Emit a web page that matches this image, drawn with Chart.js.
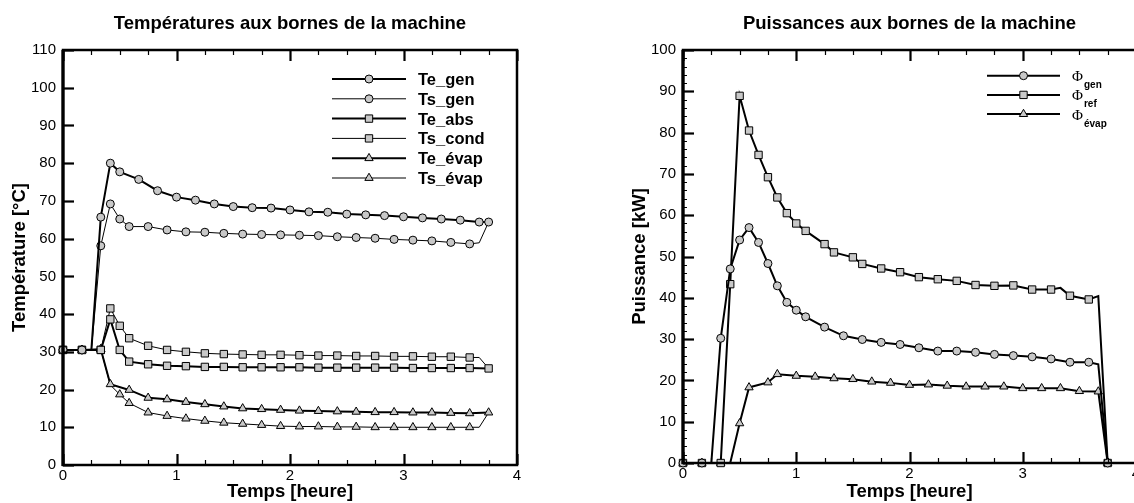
<!DOCTYPE html>
<html>
<head>
<meta charset="utf-8">
<script src="https://cdn.jsdelivr.net/npm/chart.js@4"></script>
<style>
  html, body { margin: 0; padding: 0; background: #fff; overflow: hidden; width: 1134px; height: 503px; }
  #temp { position: absolute; left: 0; top: 0; }
  #puis { position: absolute; left: 560px; top: 0; }
</style>
</head>
<body>
<canvas id="temp" width="560" height="503"></canvas>
<canvas id="puis" width="600" height="503"></canvas>
<script>
const FONT = 'Arial, "Liberation Sans", sans-serif';
Chart.defaults.font.family = FONT;
Chart.defaults.color = '#000';

// --- Températures [°C], temps en heures ---
const tTeGen = [0, 0.167, 0.25, 0.333, 0.417, 0.5, 0.667, 0.833, 1.0, 1.167, 1.333, 1.5, 1.667, 1.833, 2.0, 2.167, 2.333, 2.5, 2.667, 2.833, 3.0, 3.167, 3.333, 3.5, 3.667, 3.75];
const teGen  = [30.5, 30.5, 30.5, 65.7, 80.0, 77.7, 75.7, 72.7, 71.0, 70.2, 69.2, 68.5, 68.2, 68.1, 67.6, 67.1, 67.0, 66.5, 66.3, 66.1, 65.8, 65.5, 65.2, 64.9, 64.4, 64.4];

const tTsGen = [0, 0.167, 0.25, 0.333, 0.417, 0.5, 0.583, 0.75, 0.917, 1.083, 1.25, 1.417, 1.583, 1.75, 1.917, 2.083, 2.25, 2.417, 2.583, 2.75, 2.917, 3.083, 3.25, 3.417, 3.583, 3.667, 3.75];
const tsGen  = [30.5, 30.5, 30.5, 58.1, 69.2, 65.2, 63.2, 63.2, 62.3, 61.8, 61.7, 61.4, 61.2, 61.1, 61.0, 60.9, 60.8, 60.5, 60.3, 60.1, 59.8, 59.6, 59.4, 59.0, 58.6, 58.9, 64.4];

const tTeAbs = [0, 0.167, 0.333, 0.417, 0.5, 0.583, 0.75, 0.917, 1.083, 1.25, 1.417, 1.583, 1.75, 1.917, 2.083, 2.25, 2.417, 2.583, 2.75, 2.917, 3.083, 3.25, 3.417, 3.583, 3.75];
const teAbs  = [30.5, 30.5, 30.5, 38.6, 30.5, 27.4, 26.7, 26.3, 26.2, 26.0, 26.0, 25.9, 25.9, 25.9, 25.9, 25.8, 25.8, 25.8, 25.8, 25.8, 25.7, 25.7, 25.7, 25.7, 25.6];

const tTsCond = [0, 0.167, 0.333, 0.417, 0.5, 0.583, 0.75, 0.917, 1.083, 1.25, 1.417, 1.583, 1.75, 1.917, 2.083, 2.25, 2.417, 2.583, 2.75, 2.917, 3.083, 3.25, 3.417, 3.583, 3.667, 3.75];
const tsCond  = [30.5, 30.5, 30.5, 41.5, 36.9, 33.6, 31.6, 30.5, 30.0, 29.6, 29.4, 29.3, 29.2, 29.2, 29.1, 29.0, 29.0, 28.9, 28.9, 28.8, 28.8, 28.7, 28.7, 28.5, 28.5, 25.6];

const tTeEvap = [0, 0.167, 0.333, 0.417, 0.583, 0.75, 0.917, 1.083, 1.25, 1.417, 1.583, 1.75, 1.917, 2.083, 2.25, 2.417, 2.583, 2.75, 2.917, 3.083, 3.25, 3.417, 3.583, 3.75];
const teEvap  = [30.5, 30.5, 30.7, 21.4, 19.9, 17.8, 17.4, 16.7, 16.1, 15.5, 15.0, 14.8, 14.6, 14.4, 14.3, 14.2, 14.1, 14.0, 14.0, 13.9, 13.9, 13.8, 13.7, 13.9];

const tTsEvap = [0, 0.167, 0.333, 0.417, 0.5, 0.583, 0.75, 0.917, 1.083, 1.25, 1.417, 1.583, 1.75, 1.917, 2.083, 2.25, 2.417, 2.583, 2.75, 2.917, 3.083, 3.25, 3.417, 3.583, 3.667, 3.75];
const tsEvap  = [30.5, 30.5, 30.7, 21.2, 18.7, 16.4, 13.9, 13.0, 12.3, 11.7, 11.2, 10.9, 10.6, 10.3, 10.2, 10.2, 10.1, 10.1, 10.0, 10.0, 10.0, 10.0, 10.0, 10.0, 10.0, 13.9];

// --- Puissances [kW] ---
const tPhiGen = [0, 0.167, 0.25, 0.333, 0.417, 0.5, 0.583, 0.667, 0.75, 0.833, 0.917, 1.0, 1.083, 1.25, 1.417, 1.583, 1.75, 1.917, 2.083, 2.25, 2.417, 2.583, 2.75, 2.917, 3.083, 3.25, 3.417, 3.583, 3.667, 3.75];
const phiGen  = [0, 0, 0, 30.2, 47.0, 54.0, 57.0, 53.4, 48.3, 42.9, 38.9, 37.0, 35.4, 32.9, 30.8, 29.9, 29.2, 28.7, 27.9, 27.1, 27.1, 26.8, 26.3, 26.0, 25.7, 25.2, 24.4, 24.4, 23.9, 0];

const tPhiRef = [0, 0.167, 0.333, 0.417, 0.5, 0.583, 0.667, 0.75, 0.833, 0.917, 1.0, 1.083, 1.25, 1.333, 1.5, 1.583, 1.75, 1.917, 2.083, 2.25, 2.417, 2.583, 2.75, 2.917, 3.083, 3.25, 3.333, 3.417, 3.583, 3.667, 3.75];
const phiRef  = [0, 0, 0, 43.3, 88.9, 80.5, 74.6, 69.2, 64.3, 60.5, 58.0, 56.2, 53.0, 51.0, 49.8, 48.2, 47.1, 46.2, 45.0, 44.5, 44.1, 43.1, 42.9, 43.0, 42.0, 42.0, 42.4, 40.5, 39.6, 40.4, 0];

const tPhiEvap = [0, 0.167, 0.333, 0.417, 0.5, 0.583, 0.75, 0.833, 1.0, 1.167, 1.333, 1.5, 1.667, 1.833, 2.0, 2.167, 2.333, 2.5, 2.667, 2.833, 3.0, 3.167, 3.333, 3.5, 3.667, 3.75];
const phiEvap  = [0, 0, 0, 0, 9.6, 18.3, 19.5, 21.5, 21.1, 20.9, 20.5, 20.3, 19.7, 19.4, 18.9, 19.0, 18.7, 18.5, 18.5, 18.5, 18.1, 18.1, 18.1, 17.4, 17.3, 0];

const GRIS = '#c8c8c8';
const R = { circle: 4, rect: 5.2, triangle: 4.8 };

// points sans symbole (seulement une cassure de la courbe)
function serie(label, t, v, shape, width, plain) {
  return {
    label: label,
    data: t.map((x, i) => ({ x: x, y: v[i] })),
    borderColor: '#000',
    borderWidth: width,
    pointStyle: shape,
    pointBackgroundColor: GRIS,
    pointBorderColor: '#000',
    pointBorderWidth: 1,
    pointRadius: t.map((x, i) => plain.includes(i) ? 0 : R[shape]),
    pointHoverRadius: 0,
    tension: 0,
    clip: false
  };
}

const framePlugin = {
  id: 'frame',
  afterDatasetsDraw(chart, args, o) {
    const ctx = chart.ctx, a = chart.chartArea;
    const x = chart.scales.x, y = chart.scales.y;
    ctx.save();
    ctx.strokeStyle = '#000';
    ctx.fillStyle = '#000';
    ctx.lineCap = 'butt';

    // x ticks, inward, top and bottom
    for (let i = 0; i <= 16; i++) {
      const px = Math.round(x.getPixelForValue(i / 4)) + 0.5;
      const major = i % 4 === 0;
      const len = major ? 11 : 5;
      ctx.lineWidth = major ? 2.2 : 1.2;
      ctx.beginPath();
      ctx.moveTo(px, a.bottom); ctx.lineTo(px, a.bottom - len);
      ctx.moveTo(px, a.top); ctx.lineTo(px, a.top + len);
      ctx.stroke();
    }
    // y ticks, inward, left side only
    for (let v = y.min; v <= y.max; v += 10) {
      const py = Math.round(y.getPixelForValue(v)) + 0.5;
      ctx.lineWidth = 2.2;
      ctx.beginPath(); ctx.moveTo(a.left, py); ctx.lineTo(a.left + 11, py); ctx.stroke();
    }
    if (o.minorY) {
      ctx.lineWidth = 1;
      for (let v = y.min; v <= y.max; v += o.minorY) {
        const py = Math.round(y.getPixelForValue(v)) + 0.5;
        ctx.beginPath(); ctx.moveTo(a.left, py); ctx.lineTo(a.left + 4, py); ctx.stroke();
      }
    }
    // frame
    ctx.lineWidth = 2.5;
    ctx.strokeRect(a.left, a.top, a.right - a.left, a.bottom - a.top);
    ctx.lineWidth = 3.2;
    ctx.beginPath(); ctx.moveTo(a.left, a.top); ctx.lineTo(a.left, a.bottom + 1); ctx.stroke();

    // title
    ctx.font = 'bold 18.5px ' + FONT;
    ctx.textAlign = 'center';
    ctx.textBaseline = 'alphabetic';
    ctx.fillText(o.title, (a.left + a.right) / 2, 29);

    // legend
    const L = o.legend;
    chart.data.datasets.forEach((ds, i) => {
      const ly = L.y + i * L.dy;
      ctx.lineWidth = ds.borderWidth;
      ctx.strokeStyle = '#000';
      ctx.beginPath(); ctx.moveTo(L.x1, ly); ctx.lineTo(L.x2, ly); ctx.stroke();
      ctx.fillStyle = GRIS;
      ctx.lineWidth = 1;
      Chart.helpers.drawPoint(ctx, { pointStyle: ds.pointStyle, radius: R[ds.pointStyle], borderWidth: 1, rotation: 0 }, (L.x1 + L.x2) / 2, ly);
      ctx.fillStyle = '#000';
      ctx.textAlign = 'left';
      if (L.sub) {
        ctx.font = '15px "Liberation Serif", serif';
        ctx.fillText('Φ', L.xt, ly + 5.5);
        const w = ctx.measureText('Φ').width;
        ctx.font = 'bold 10px ' + FONT;
        ctx.fillText(ds.label.slice(1), L.xt + w + 1, ly + 12.5);
      } else {
        ctx.font = 'bold 16.5px ' + FONT;
        ctx.fillText(ds.label, L.xt, ly + 6);
      }
    });
    ctx.restore();
  }
};

function axes(ymax, yTitle, xh) {
  return {
    x: {
      type: 'linear', min: 0, max: 4,
      grid: { display: false, drawTicks: false },
      border: { display: false },
      ticks: { stepSize: 1, padding: 2, maxRotation: 0, font: { size: 15 } },
      title: { display: true, text: 'Temps [heure]', font: { size: 18.5, weight: 'bold' }, padding: { top: 0, bottom: 0 } },
      afterFit: s => { s.height = xh; }
    },
    y: {
      min: 0, max: ymax,
      grid: { display: false, drawTicks: false },
      border: { display: false },
      ticks: { stepSize: 10, padding: 7, font: { size: 15 } },
      title: { display: true, text: yTitle, font: { size: 18.5, weight: 'bold' }, padding: { top: 9, bottom: 0 } },
      afterFit: s => { s.width = 63; }
    }
  };
}

new Chart(document.getElementById('temp'), {
  type: 'line',
  data: {
    datasets: [
      serie('Te_gen', tTeGen, teGen, 'circle', 2, [2]),
      serie('Ts_gen', tTsGen, tsGen, 'circle', 1, [2, 25, 26]),
      serie('Te_abs', tTeAbs, teAbs, 'rect', 2, []),
      serie('Ts_cond', tTsCond, tsCond, 'rect', 1, [24, 25]),
      serie('Te_évap', tTeEvap, teEvap, 'triangle', 2, []),
      serie('Ts_évap', tTsEvap, tsEvap, 'triangle', 1, [3, 24, 25])
    ]
  },
  options: {
    responsive: false,
    animation: false,
    events: [],
    layout: { padding: { left: 0, top: 50, right: 43, bottom: 0 } },
    scales: axes(110, 'Température [°C]', 38),
    plugins: {
      legend: { display: false },
      tooltip: { enabled: false },
      frame: { title: 'Températures aux bornes de la machine', legend: { x1: 332, x2: 406, xt: 418, y: 79, dy: 19.8 } }
    }
  },
  plugins: [framePlugin]
});

new Chart(document.getElementById('puis'), {
  type: 'line',
  data: {
    datasets: [
      serie('Φgen', tPhiGen, phiGen, 'circle', 2, [2, 28]),
      serie('Φref', tPhiRef, phiRef, 'rect', 2, [26, 29]),
      serie('Φévap', tPhiEvap, phiEvap, 'triangle', 2, [3])
    ]
  },
  options: {
    responsive: false,
    animation: false,
    events: [],
    layout: { padding: { left: 60, top: 50, right: 24, bottom: 0 } },
    scales: axes(100, 'Puissance [kW]', 40),
    plugins: {
      legend: { display: false },
      tooltip: { enabled: false },
      frame: { title: 'Puissances aux bornes de la machine', minorY: 2, legend: { x1: 427, x2: 500, xt: 512, y: 75.7, dy: 19.2, sub: true } }
    }
  },
  plugins: [framePlugin]
});
</script>
</body>
</html>
